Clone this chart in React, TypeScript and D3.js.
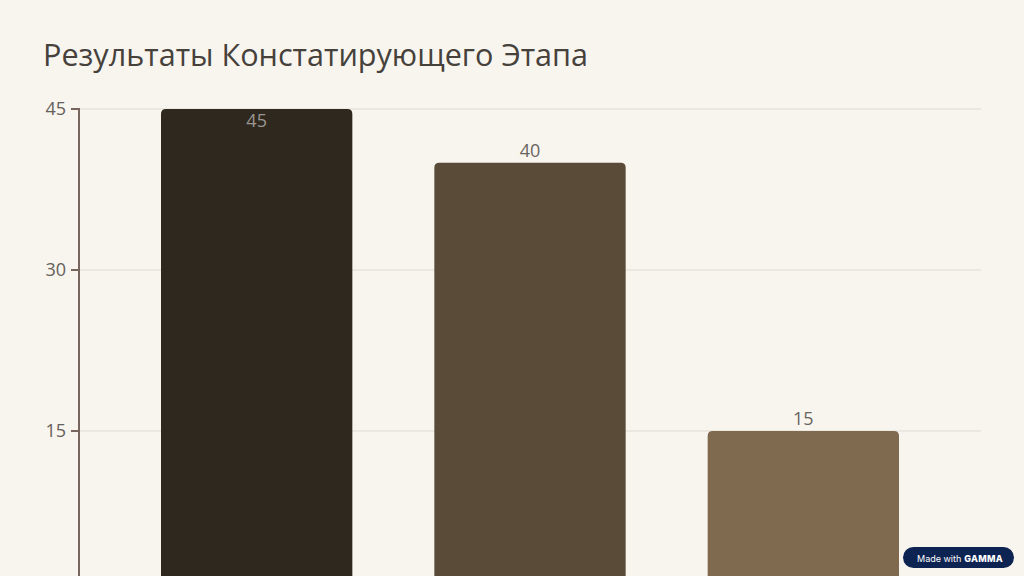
import React from "react";
import * as d3 from "d3";

const categories = ["A", "B", "C"];
const values = [45, 40, 15];
const tickValues = [15, 30, 45];
const barColors = ["#2f281f", "#5a4a38", "#7f6a4f"];

const W = 1024;
const H = 576;

export default function App() {
  const x = d3
    .scaleBand<string>()
    .domain(categories)
    .range([79, 981])
    .paddingInner(0.3)
    .paddingOuter(0.3);
  const y = d3.scaleLinear().domain([0, 45]).range([592, 109]);
  const r = 5;
  const font = "'Open Sans', 'Noto Sans', sans-serif";

  const barPath = (x0: number, y0: number, w: number, y1: number) =>
    `M${x0},${y1}V${y0 + r}Q${x0},${y0} ${x0 + r},${y0}H${x0 + w - r}Q${x0 + w},${y0} ${x0 + w},${y0 + r}V${y1}Z`;

  return (
    <svg
      width={W}
      height={H}
      style={{ position: "absolute", left: 0, top: 0, background: "#f8f5ef" }}
    >
      <rect x={0} y={0} width={W} height={H} fill="#f8f5ef" />
      <text x={43} y={66} fontFamily={font} fontSize={30.6} fill="#46413b">
        Результаты Констатирующего Этапа
      </text>
      {tickValues.map((t) => (
        <g key={t}>
          <line x1={79} x2={981} y1={y(t)} y2={y(t)} stroke="#dedad3" strokeWidth={1.2} />
          <line x1={71} x2={79} y1={y(t)} y2={y(t)} stroke="#76665e" strokeWidth={2} />
          <text
            x={66}
            y={y(t)}
            dy="0.35em"
            textAnchor="end"
            fontFamily={font}
            fontSize={18}
            fill="#66605a"
          >
            {t}
          </text>
        </g>
      ))}
      <line x1={79} x2={79} y1={108} y2={H} stroke="#76665e" strokeWidth={2} />
      {categories.map((c, i) => {
        const x0 = x(c)!;
        const w = x.bandwidth();
        const top = y(values[i]);
        const inside = top - 20 < 109;
        return (
          <g key={c}>
            <path d={barPath(x0, top, w, y(0))} fill={barColors[i]} />
            <text
              x={x0 + w / 2}
              y={inside ? top + 18 : top - 6}
              textAnchor="middle"
              fontFamily={font}
              fontSize={18}
              fill={inside ? "#9a968f" : "#6a645e"}
            >
              {values[i]}
            </text>
          </g>
        );
      })}
      <g>
        <rect x={903} y={547} width={111} height={21} rx={10.5} fill="#0d2352" />
        <text x={917} y={561.5} fontFamily="'Inter', sans-serif" fontSize={9} fill="#ffffff">
          Made with
          <tspan fontWeight={800} dx={3} letterSpacing={0.3}>GAMMA</tspan>
        </text>
      </g>
    </svg>
  );
}
